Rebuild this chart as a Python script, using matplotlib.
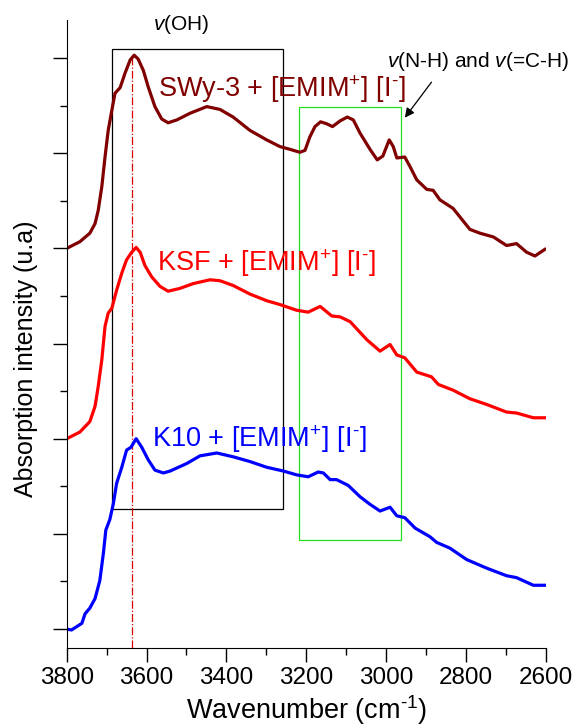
import matplotlib.pyplot as plt
import numpy as np
from matplotlib.patches import Rectangle

plt.rcParams['font.family'] = ['Liberation Sans', 'DejaVu Sans']
plt.rcParams['mathtext.fontset'] = 'custom'
plt.rcParams['mathtext.rm'] = 'Liberation Sans'
plt.rcParams['mathtext.it'] = 'Liberation Sans:italic'

# --- data (wavenumber, offset intensity) ---
swy_x = [3800, 3767, 3742, 3729, 3721, 3712, 3704, 3696, 3687, 3679, 3666, 3654,
         3641, 3631, 3621, 3608, 3596, 3579, 3562, 3546, 3524, 3491, 3449, 3416,
         3383, 3341, 3299, 3266, 3240, 3216, 3203, 3191, 3178, 3164, 3149, 3134,
         3115, 3097, 3082, 3065, 3040, 3022, 3008, 2992, 2982, 2973, 2953, 2940,
         2923, 2898, 2882, 2865, 2832, 2790, 2765, 2731, 2698, 2673, 2648, 2627,
         2602]
swy_y = [4.00, 4.07, 4.16, 4.26, 4.40, 4.65, 4.96, 5.24, 5.45, 5.63, 5.69, 5.84,
         5.98, 6.03, 5.99, 5.87, 5.70, 5.49, 5.36, 5.32, 5.35, 5.42, 5.49, 5.46,
         5.38, 5.24, 5.14, 5.07, 5.04, 5.01, 5.03, 5.17, 5.28, 5.33, 5.31, 5.28,
         5.34, 5.38, 5.35, 5.21, 5.04, 4.93, 4.97, 5.14, 5.07, 4.95, 4.96, 4.86,
         4.72, 4.62, 4.61, 4.51, 4.42, 4.20, 4.16, 4.12, 4.03, 4.05, 3.96, 3.92,
         3.99]

ksf_x = [3800, 3767, 3742, 3729, 3721, 3712, 3704, 3696, 3687, 3675, 3662, 3650,
         3637, 3626, 3616, 3604, 3587, 3566, 3546, 3516, 3483, 3441, 3416, 3383,
         3341, 3299, 3266, 3224, 3195, 3165, 3136, 3115, 3090, 3048, 3015, 2990,
         2973, 2953, 2923, 2886, 2869, 2832, 2790, 2748, 2698, 2673, 2631, 2602]
ksf_y = [2.00, 2.07, 2.18, 2.34, 2.55, 2.83, 3.18, 3.32, 3.37, 3.56, 3.74, 3.88,
         3.96, 4.01, 3.96, 3.82, 3.70, 3.60, 3.55, 3.58, 3.63, 3.67, 3.66, 3.61,
         3.52, 3.45, 3.41, 3.35, 3.33, 3.39, 3.29, 3.28, 3.23, 3.04, 2.92, 2.99,
         2.88, 2.85, 2.70, 2.65, 2.57, 2.51, 2.42, 2.36, 2.28, 2.27, 2.22, 2.22]

k10_x = [3800, 3788, 3762, 3754, 3742, 3729, 3717, 3708, 3702, 3692, 3683, 3675,
         3662, 3650, 3639, 3626, 3612, 3596, 3579, 3558, 3541, 3499, 3466, 3424,
         3383, 3341, 3299, 3257, 3224, 3195, 3170, 3157, 3140, 3124, 3095, 3065,
         3040, 3015, 2990, 2973, 2953, 2927, 2890, 2873, 2840, 2798, 2748, 2698,
         2673, 2631, 2602]
k10_y = [0.00, -0.01, 0.06, 0.16, 0.22, 0.32, 0.51, 0.80, 1.04, 1.15, 1.32, 1.53,
         1.70, 1.88, 1.91, 2.00, 1.91, 1.78, 1.67, 1.64, 1.66, 1.74, 1.82, 1.85,
         1.81, 1.76, 1.70, 1.66, 1.62, 1.60, 1.65, 1.64, 1.57, 1.57, 1.51, 1.39,
         1.31, 1.24, 1.28, 1.19, 1.17, 1.06, 0.97, 0.91, 0.85, 0.73, 0.64, 0.56,
         0.54, 0.46, 0.46]

oh_peak = 3637

fig = plt.figure(figsize=(5.74, 7.27), dpi=100)
ax = fig.add_axes([0.1162, 0.1091, 0.8345, 0.8634])

ax.plot(swy_x, swy_y, color='#800000', lw=2.3, solid_joinstyle='round')
ax.plot(ksf_x, ksf_y, color='#ff0000', lw=2.3, solid_joinstyle='round')
ax.plot(k10_x, k10_y, color='#0000ff', lw=2.3, solid_joinstyle='round')

ax.set_xlim(3800, 2600)
ax.set_ylim(-0.196, 6.40)

# boxes
ax.add_patch(Rectangle((3686, 1.26), 3257 - 3686, 6.09 - 1.26, fill=False,
                       ec='black', lw=0.9))
ax.add_patch(Rectangle((3217, 0.94), 2962 - 3217, 5.49 - 0.94, fill=False,
                       ec='#22dd22', lw=0.9))

# peak line
ax.plot([oh_peak, oh_peak], [-0.196, 6.03], color='#dd0000', lw=0.9,
        ls='-.', zorder=1)

# labels
lbl = dict(fontsize=19.5, va='baseline', ha='left')
ax.text(3571, 5.59, r'SWy-3 + [EMIM$^{+}$] [I$^{\text{-}}$]', color='#800000', **lbl)
ax.text(3574, 3.76, r'KSF + [EMIM$^{+}$] [I$^{\text{-}}$]', color='#ff0000', **lbl)
ax.text(3586, 1.91, r'K10 + [EMIM$^{+}$] [I$^{\text{-}}$]', color='#0000ff', **lbl)

ax.text(3583, 6.29, r'$\mathit{v}$(OH)', fontsize=15, va='baseline', ha='left')
ax.text(2998, 5.91, r'$\mathit{v}$(N-H) and $\mathit{v}$(=C-H)', fontsize=15,
        va='baseline', ha='left')
ax.annotate('', xy=(2957, 5.35), xytext=(2882, 5.77),
            arrowprops=dict(arrowstyle='-|>', color='black', lw=0.9,
                            mutation_scale=14))

# axes styling
ax.spines['top'].set_visible(False)
ax.spines['right'].set_visible(False)
ax.set_xticks([3800, 3600, 3400, 3200, 3000, 2800, 2600])
ax.set_xticks(np.arange(2700, 3800, 200), minor=True)
ax.set_yticks(np.arange(0, 7, 1))
ax.set_yticks(np.arange(0.5, 6.5, 1), minor=True)
ax.set_yticklabels([])
ax.tick_params(which='major', length=10, width=1, labelsize=17.5, pad=4)
ax.tick_params(which='minor', length=5, width=1)

ax.set_xlabel(r'Wavenumber (cm$^{\text{-1}}$)', fontsize=19.5)
ax.xaxis.label.set_va('baseline')
ax.xaxis.set_label_coords(0.5, -0.114)
ax.set_ylabel('Absorption intensity (u.a)', fontsize=18)
ax.yaxis.label.set_va('baseline')
ax.yaxis.set_label_coords(-0.0697, 0.46)

plt.savefig('out.png', dpi=100)
